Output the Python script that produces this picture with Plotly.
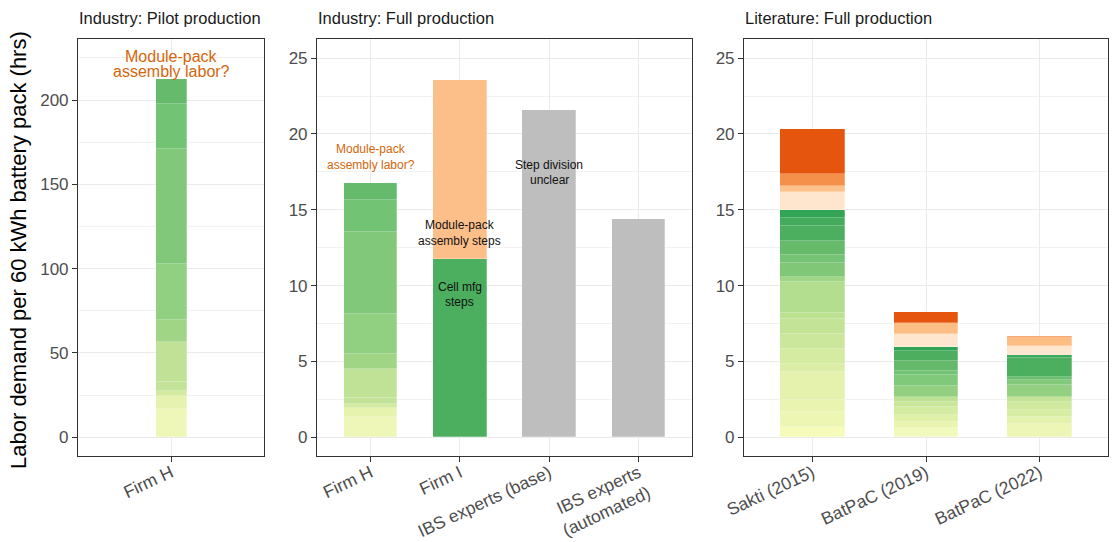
import plotly.graph_objects as go

# ---------------- data ----------------
# Panel 1: Industry pilot production (Firm H), stacked step segments (hrs)
pilot_cat = ["Firm H"]
pilot_firmh = [16.8, 7.7, 3.2, 5.3, 23.7, 12.9, 33.2, 68.3, 26.5, 14.9]
firmh_colors = ["#EEF7B7", "#E6F3AE", "#D3EA9F", "#C3E398", "#BFE296",
                "#A1D586", "#91CF81", "#81C87A", "#73C375", "#65BB6B"]

# Panel 2: Industry full production
full_cats = ["Firm H", "Firm I", "IBS experts (base)", "IBS experts<br>(automated)"]
full_firmh = [1.36, 0.60, 0.24, 0.39, 1.89, 1.01, 2.64, 5.40, 2.11, 1.12]
firmi_steps = [11.78, 11.81]          # cell mfg, module-pack assembly
firmi_colors = ["#4CAE5F", "#FDBF8A"]
ibs_totals = [21.57, 14.37]           # base, automated
ibs_color = "#BEBEBE"

# Panel 3: Literature full production
lit_cats = ["Sakti (2015)", "BatPaC (2019)", "BatPaC (2022)"]
sakti = [0.70, 0.99, 0.77, 1.82, 0.53, 0.99, 1.01, 0.99, 0.37, 2.07,
         0.31, 0.92, 0.55, 0.92, 0.99, 0.55, 0.50, 1.17, 0.42, 0.79, 2.96]
sakti_colors = ["#F7FBB9", "#EEF6B4", "#E9F4B0", "#E4F2AE", "#DCEEA6", "#D5EBA1",
                "#CBE79B", "#C3E396", "#BCE191", "#B3DE8F", "#A0D686", "#80C878",
                "#75C375", "#66BB6A", "#4CAF5F", "#45AB5C", "#33A456",
                "#FEE6CE", "#FDC18B", "#F5904B", "#E6550D"]
batpac19 = [0.59, 0.44, 0.44, 0.51, 0.37, 0.33, 0.70, 0.73, 0.26, 0.66,
            0.66, 0.24, 0.86, 0.76, 0.73]
batpac19_colors = ["#F2F9BC", "#E9F4B0", "#DFF0A8", "#D4EBA2", "#C9E69B", "#BEE294",
                   "#92CF81", "#80C87A", "#73C376", "#64BA6A", "#4DAE5F", "#31A354",
                   "#FEE6CE", "#FDBE85", "#E6550D"]
batpac22 = [0.88, 0.48, 0.44, 0.55, 0.29, 0.81, 0.33, 0.18, 1.25, 0.22,
            0.59, 0.61, 0.05]
batpac22_colors = ["#EEF6B7", "#E3F2AD", "#D8EDA4", "#CFE99E", "#C4E498", "#93D082",
                   "#82C97B", "#6CBF6F", "#4CAF5F", "#3BA85A",
                   "#FEE6CE", "#FDBE85", "#F08A4B"]

# Text notes, one entry per line: (panel, category, y, text, colour, size)
notes = [
    (1, "Firm H", 226.0, "Module-pack", "#D5660A", 16),
    (1, "Firm H", 216.8, "assembly labor?", "#D5660A", 16),
    (2, "Firm H", 19.0, "Module-pack", "#D5660A", 12),
    (2, "Firm H", 17.95, "assembly labor?", "#D5660A", 12),
    (2, "Firm I", 14.0, "Module-pack", "#111111", 12),
    (2, "Firm I", 12.96, "assembly steps", "#111111", 12),
    (2, "Firm I", 9.93, "Cell mfg", "#111111", 12),
    (2, "Firm I", 8.94, "steps", "#111111", 12),
    (2, "IBS experts (base)", 17.95, "Step division", "#111111", 12),
    (2, "IBS experts (base)", 16.96, "unclear", "#111111", 12),
]

panel_titles = ["Industry: Pilot production", "Industry: Full production",
                "Literature: Full production"]
y_title = "Labor demand per 60 kWh battery pack (hrs)"

# ---------------- figure ----------------
W, H = 1112, 542
# panel pixel boxes
px = [(78, 264), (317, 692), (744, 1108)]
py = (39, 456)

fig = go.Figure()
seg_line = dict(color="rgba(255,255,255,0.45)", width=0.6)


def add_stack(axis_n, cat, values, colors, width):
    for v, c in zip(values, colors):
        fig.add_trace(go.Bar(
            x=[cat], y=[v], marker=dict(color=c, line=seg_line), width=width,
            xaxis="x" if axis_n == 1 else f"x{axis_n}",
            yaxis="y" if axis_n == 1 else f"y{axis_n}",
            showlegend=False, hoverinfo="x+y"))


add_stack(1, pilot_cat[0], pilot_firmh, firmh_colors, 0.2)
add_stack(2, full_cats[0], full_firmh, firmh_colors, 0.6)
add_stack(2, full_cats[1], firmi_steps, firmi_colors, 0.6)
add_stack(2, full_cats[2], [ibs_totals[0]], [ibs_color], 0.6)
add_stack(2, full_cats[3], [ibs_totals[1]], [ibs_color], 0.6)
add_stack(3, lit_cats[0], sakti, sakti_colors, 0.57)
add_stack(3, lit_cats[1], batpac19, batpac19_colors, 0.57)
add_stack(3, lit_cats[2], batpac22, batpac22_colors, 0.57)

font_main = "Liberation Sans, Arial, sans-serif"
ytick_font = dict(family=font_main, size=17, color="#4D4D4D")
xtick_font = dict(family=font_main, size=17.5, color="#4D4D4D")

cat_lists = [pilot_cat, full_cats, lit_cats]
yranges = [[-11.1, 236.2], [-1.23, 26.26], [-1.23, 26.26]]
ydticks = [50, 5, 5]

layout = dict(
    width=W, height=H, barmode="stack", bargap=0,
    margin=dict(l=0, r=0, t=0, b=0, autoexpand=False),
    paper_bgcolor="white", plot_bgcolor="white",
    font=dict(family=font_main),
)
ydom = [1 - py[1] / H, 1 - py[0] / H]
for i in range(3):
    n = i + 1
    xk = "xaxis" if n == 1 else f"xaxis{n}"
    yk = "yaxis" if n == 1 else f"yaxis{n}"
    ncat = len(cat_lists[i])
    layout[xk] = dict(
        domain=[px[i][0] / W, px[i][1] / W], anchor="y" if n == 1 else f"y{n}",
        type="category", categoryorder="array", categoryarray=cat_lists[i],
        range=[-0.6, ncat - 0.4], tickangle=-25, tickfont=xtick_font,
        showgrid=True, gridcolor="#EBEBEB", gridwidth=1.3,
        ticks="outside", ticklen=5, tickcolor="#333333", tickwidth=1.2,
        ticklabelstandoff=-6,
        showline=True, linecolor="#333333", linewidth=1.1, mirror=True,
        zeroline=False, fixedrange=True, automargin=False)
    layout[yk] = dict(
        domain=ydom, anchor="x" if n == 1 else f"x{n}",
        range=yranges[i], dtick=ydticks[i], tick0=0, tickfont=ytick_font,
        showgrid=True, gridcolor="#EBEBEB", gridwidth=1.3,
        minor=dict(dtick=ydticks[i] / 2, tick0=0, showgrid=True,
                   gridcolor="#F2F2F2", gridwidth=0.8, ticks=""),
        ticks="outside", ticklen=5, tickcolor="#333333", tickwidth=1.2,
        showline=True, linecolor="#333333", linewidth=1.1, mirror=True,
        zeroline=False, fixedrange=True, automargin=False)
fig.update_layout(**layout)

ann = []
for i, t in enumerate(panel_titles):
    ann.append(dict(text=t, xref="paper", yref="paper", x=(px[i][0] - 1) / W,
                    y=1 - 18 / H, xanchor="left", yanchor="middle", showarrow=False,
                    font=dict(family=font_main, size=16.5, color="#1A1A1A")))
ann.append(dict(text=y_title, xref="paper", yref="paper", x=19 / W, y=1 - 250 / H,
                textangle=-90, xanchor="center", yanchor="middle", showarrow=False,
                font=dict(family=font_main, size=22, color="#000000")))
for panel, cat, yv, txt, col, sz in notes:
    ann.append(dict(text=txt, x=cat, y=yv,
                    xref="x" if panel == 1 else f"x{panel}",
                    yref="y" if panel == 1 else f"y{panel}",
                    showarrow=False, xanchor="center", yanchor="middle",
                    font=dict(family=font_main, size=sz, color=col)))
fig.update_layout(annotations=ann)

fig.write_html("out.html")
